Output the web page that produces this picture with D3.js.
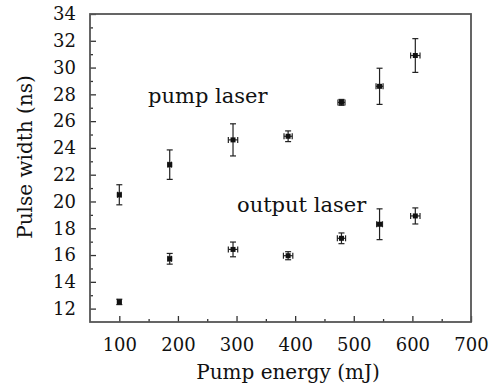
<!DOCTYPE html>
<html>
<head>
<meta charset="utf-8">
<script src="https://cdn.jsdelivr.net/npm/d3@7"></script>
<style>
  body { margin: 0; background: #fff; }
  text { font-family: "DejaVu Serif", serif; fill: #111; }
</style>
</head>
<body>
<div id="chart"></div>
<script>
// pump energy (mJ)
var energy = [100, 186, 294, 388, 479, 544, 605];
// pulse width (ns)
var pumpWidth = [20.5, 22.75, 24.6, 24.87, 27.4, 28.6, 30.9];
var pumpErrY = [0.75, 1.1, 1.2, 0.4, 0.22, 1.35, 1.26];
var pumpErrX = [3, 3, 8, 7, 6, 6, 8];
var outWidth = [12.5, 15.72, 16.42, 15.95, 17.25, 18.3, 18.92];
var outErrY = [0.2, 0.4, 0.55, 0.3, 0.4, 1.15, 0.6];
var outErrX = [3, 3, 8, 8, 7, 5, 8];
var xTicks = [100, 200, 300, 400, 500, 600, 700];
var yTicks = [12, 14, 16, 18, 20, 22, 24, 26, 28, 30, 32, 34];

var W = 496, H = 387;
var m = {left: 90, right: 25, top: 14, bottom: 65};
var iw = W - m.left - m.right, ih = H - m.top - m.bottom;

var svg = d3.select('#chart').append('svg').attr('width', W).attr('height', H);
var g = svg.append('g').attr('transform', 'translate(' + m.left + ',' + m.top + ')');

var x = d3.scaleLinear().domain([50, 700]).range([0, iw]);
var y = d3.scaleLinear().domain([11, 34]).range([ih, 0]);

// minor ticks
g.append('g').attr('transform', 'translate(0,' + ih + ')')
  .call(d3.axisBottom(x).tickValues(d3.range(150, 700, 100)).tickSize(-3).tickFormat(''))
  .call(function(s){ s.select('.domain').remove(); });
g.append('g')
  .call(d3.axisLeft(y).tickValues(d3.range(13, 34, 2)).tickSize(-3).tickFormat(''))
  .call(function(s){ s.select('.domain').remove(); });

// major ticks
var xa = g.append('g').attr('transform', 'translate(0,' + ih + ')')
  .call(d3.axisBottom(x).tickValues(xTicks).tickSize(-6).tickPadding(16));
xa.select('.domain').remove();
xa.selectAll('text').attr('font-size', '18px').attr('font-family', '"DejaVu Serif", serif').attr('fill', '#111');

var ya = g.append('g')
  .call(d3.axisLeft(y).tickValues(yTicks).tickSize(-6).tickPadding(14));
ya.select('.domain').remove();
ya.selectAll('text').attr('font-size', '18px').attr('font-family', '"DejaVu Serif", serif').attr('fill', '#111');

g.selectAll('.tick line').attr('stroke', '#333').attr('stroke-width', 1.3);

// frame
g.append('rect').attr('width', iw).attr('height', ih)
  .attr('fill', 'none').attr('stroke', '#555').attr('stroke-width', 1.8);

function drawSeries(vals, ey, ex) {
  var s = g.append('g').attr('stroke', '#222').attr('stroke-width', 1.2);
  energy.forEach(function(e, i) {
    var cx = x(e), cy = y(vals[i]);
    var y0 = y(vals[i] - ey[i]), y1 = y(vals[i] + ey[i]);
    s.append('line').attr('x1', cx).attr('x2', cx).attr('y1', y0).attr('y2', y1);
    s.append('line').attr('x1', cx - 3).attr('x2', cx + 3).attr('y1', y0).attr('y2', y0);
    s.append('line').attr('x1', cx - 3).attr('x2', cx + 3).attr('y1', y1).attr('y2', y1);
    var x0 = x(e - ex[i]), x1 = x(e + ex[i]);
    s.append('line').attr('x1', x0).attr('x2', x1).attr('y1', cy).attr('y2', cy);
    s.append('line').attr('x1', x0).attr('x2', x0).attr('y1', cy - 3).attr('y2', cy + 3);
    s.append('line').attr('x1', x1).attr('x2', x1).attr('y1', cy - 3).attr('y2', cy + 3);
    s.append('rect').attr('x', cx - 2.5).attr('y', cy - 2.5).attr('width', 5).attr('height', 5)
      .attr('fill', '#111').attr('stroke', 'none');
  });
}
drawSeries(pumpWidth, pumpErrY, pumpErrX);
drawSeries(outWidth, outErrY, outErrX);

// labels
svg.append('text').attr('x', 148).attr('y', 103).attr('font-size', '21px').text('pump laser');
svg.append('text').attr('x', 237).attr('y', 212).attr('font-size', '21px').text('output laser');

svg.append('text').attr('x', 288).attr('y', 379).attr('text-anchor', 'middle')
  .attr('font-size', '20px').text('Pump energy (mJ)');
svg.append('text').attr('transform', 'translate(32,157) rotate(-90)')
  .attr('text-anchor', 'middle').attr('font-size', '20px').text('Pulse width (ns)');
</script>
</body>
</html>
